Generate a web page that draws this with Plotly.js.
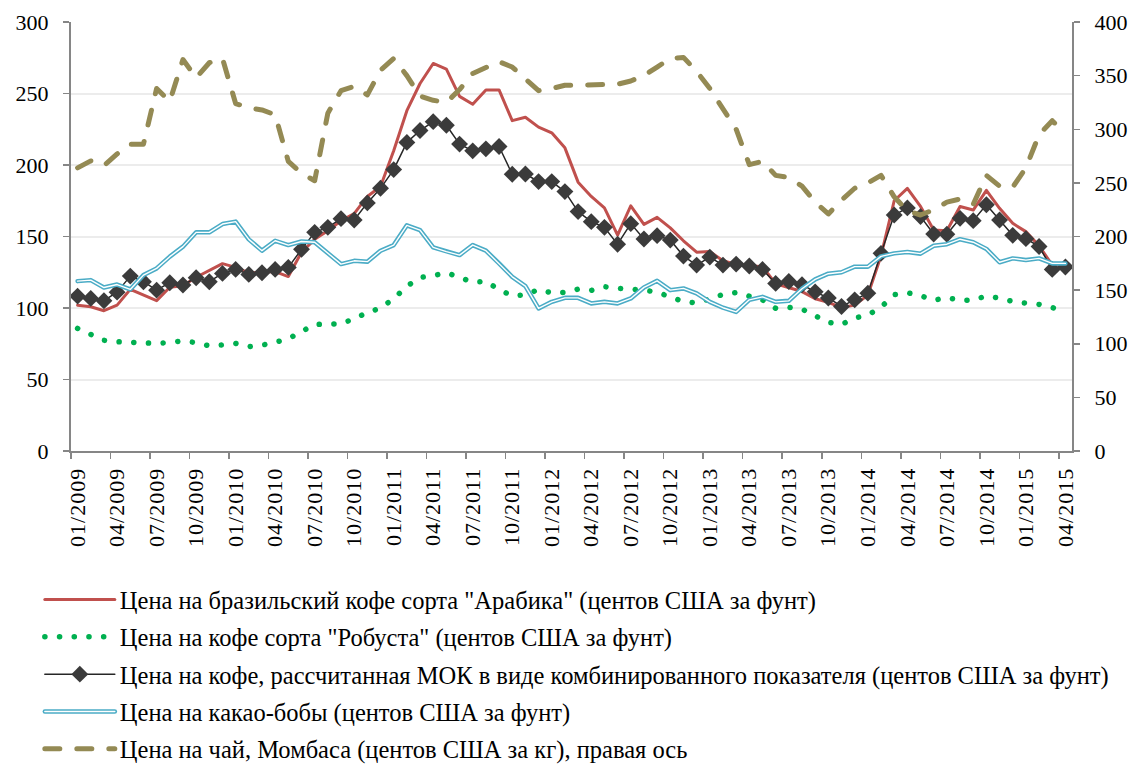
<!DOCTYPE html>
<html><head><meta charset="utf-8">
<script src="https://cdn.plot.ly/plotly-3.0.1.min.js"></script>
<style>
html,body{margin:0;padding:0;background:#fff;}
#chart{width:1138px;height:764px;}
.scatterlayer path.js-line, .legendlines path.js-line{stroke-linecap:round;stroke-linejoin:round;}
.xtick text{letter-spacing:1px;}
</style>
</head><body><div id="chart"></div>
<script>
const months = ["01/2009","02/2009","03/2009","04/2009","05/2009","06/2009","07/2009","08/2009","09/2009","10/2009","11/2009","12/2009",
"01/2010","02/2010","03/2010","04/2010","05/2010","06/2010","07/2010","08/2010","09/2010","10/2010","11/2010","12/2010",
"01/2011","02/2011","03/2011","04/2011","05/2011","06/2011","07/2011","08/2011","09/2011","10/2011","11/2011","12/2011",
"01/2012","02/2012","03/2012","04/2012","05/2012","06/2012","07/2012","08/2012","09/2012","10/2012","11/2012","12/2012",
"01/2013","02/2013","03/2013","04/2013","05/2013","06/2013","07/2013","08/2013","09/2013","10/2013","11/2013","12/2013",
"01/2014","02/2014","03/2014","04/2014","05/2014","06/2014","07/2014","08/2014","09/2014","10/2014","11/2014","12/2014",
"01/2015","02/2015","03/2015","04/2015"];
const tickLabels = ["01/2009","04/2009","07/2009","10/2009","01/2010","04/2010","07/2010","10/2010","01/2011","04/2011","07/2011","10/2011",
"01/2012","04/2012","07/2012","10/2012","01/2013","04/2013","07/2013","10/2013","01/2014","04/2014","07/2014","10/2014","01/2015","04/2015"];

const arabica = [102.0,100.9,98.1,102.0,113.0,109.1,105.1,114.5,115.5,121.5,
126.0,131.0,128.4,124.5,125.0,125.5,122.0,139.0,148.0,154.0,
161.0,166.0,178.0,185.0,210.0,238.0,257.0,271.0,267.0,248.0,
242.5,252.5,252.5,231.0,233.4,226.5,222.5,212.0,188.0,178.0,
170.0,151.0,171.5,158.5,163.4,156.0,147.0,139.0,139.5,133.0,
130.5,129.8,128.9,117.0,114.5,111.5,106.5,104.0,100.3,102.0,
109.0,136.5,175.0,183.7,171.0,154.5,154.0,171.0,168.5,182.3,
169.7,159.2,153.4,143.5,130.0,130.0];
const robusta = [85.7,81.2,77.4,76.4,76.0,75.4,75.2,76.0,77.0,75.8,
73.5,74.2,75.2,73.0,74.0,76.0,78.5,83.5,88.5,88.8,
89.0,92.5,96.8,100.0,106.5,115.2,121.3,122.6,124.7,121.5,
118.0,118.6,112.9,108.5,109.2,112.9,110.6,110.9,113.2,112.3,
114.9,113.8,113.4,112.5,111.0,108.2,104.5,103.5,106.0,109.5,
110.8,108.1,105.7,99.8,100.4,99.2,94.3,90.0,88.5,93.0,
95.1,100.5,109.3,110.7,108.6,105.4,107.3,105.3,105.5,108.5,
106.8,104.6,103.4,102.5,100.3,97.5];
const mok = [108.3,106.7,105.1,111.1,122.3,118.4,112.5,117.7,116.1,121.2,
118.4,124.2,127.0,123.5,124.7,127.0,128.4,141.0,152.9,156.4,
162.5,161.5,173.5,183.7,196.8,215.8,224.1,230.3,227.8,214.6,
209.9,211.3,212.9,193.5,193.7,188.4,188.4,181.4,167.4,160.4,
156.4,144.6,159.0,148.3,150.6,147.5,136.3,130.0,135.6,130.0,
130.7,129.4,127.0,117.2,118.5,116.3,111.3,107.0,101.1,105.7,
110.4,138.2,165.0,170.0,163.9,151.8,151.6,162.7,161.1,172.2,
161.5,150.8,148.5,143.0,127.0,128.7];
const cocoa = [118.8,119.5,114.3,116.4,113.0,123.0,127.7,135.9,142.9,152.9,
152.9,158.7,160.4,148.0,140.1,147.0,144.0,146.5,146.0,138.5,
130.7,133.0,132.4,140.0,144.0,157.8,154.5,142.4,139.4,137.0,
144.0,140.1,131.2,121.8,115.3,99.7,104.3,107.1,107.1,103.2,
104.3,103.2,106.7,114.4,119.0,112.5,113.7,110.2,104.3,100.2,
97.3,105.7,107.8,104.3,105.0,113.5,120.0,124.0,125.0,128.9,
128.9,136.1,138.2,139.2,138.0,143.5,144.6,148.1,146.0,141.3,
132.0,134.7,133.5,134.7,131.2,131.2];
const tea = [264,270.5,266,277,286,286,338,326,365,348,
362,366,324,320,318,313.5,270,259,252,315,
336,340,332,355,366,350,331,327,325,337,
352,358,363,358,347,336,338,341,341,341,
341,342,345,350,358,366,367,354,338,320,
300,267,270,257,255,247,232,221,234,245,
250,257,237,224,220,225,232,235,230,257,
247,246,264,295,308,296];

const names = [
 'Цена на бразильский кофе сорта "Арабика" (центов США за фунт)',
 'Цена на кофе сорта "Робуста" (центов США за фунт)',
 'Цена на кофе, рассчитанная МОК в виде комбинированного показателя (центов США за фунт)',
 'Цена на какао-бобы (центов США за фунт)',
 'Цена на чай, Момбаса (центов США за кг), правая ось'
];

const x = months.map((m, i) => i);
const tickvals = tickLabels.map(t => months.indexOf(t));

const traces = [
 {x, y: arabica, name: names[0], type:'scatter', mode:'lines', legendgroup:'a',
  line:{color:'#c0504d', width:3}},
 {x, y: robusta, name: names[1], type:'scatter', mode:'lines', legendgroup:'b',
  line:{color:'#00b050', width:5.5, dash:'0.1px,14.6px'}},
 {x, y: mok, name: names[2], type:'scatter', mode:'lines+markers', legendgroup:'c',
  line:{color:'#262626', width:1.5}, marker:{symbol:'diamond', size:13, color:'#3b3b3b'}},
 {x, y: cocoa, name: names[3], type:'scatter', mode:'lines', legendgroup:'d',
  line:{color:'#4bacc6', width:4.5}},
 {x, y: cocoa, name: names[3], type:'scatter', mode:'lines', legendgroup:'d', showlegend:false, hoverinfo:'skip',
  line:{color:'#ffffff', width:1.4}},
 {x, y: tea, name: names[4], type:'scatter', mode:'lines', legendgroup:'e', yaxis:'y2',
  line:{color:'#948a54', width:5, dash:'15px,17px'}}
];

const axisColor = '#868686';
const serif = 'Liberation Serif, Times New Roman, serif';
const tickFont = {family:serif, size:22, color:'#000'};

const layout = {
 width:1138, height:764,
 margin:{l:71, r:66, t:22, b:313, pad:0, autoexpand:false},
 paper_bgcolor:'#fff', plot_bgcolor:'#fff',
 showlegend:true,
 xaxis:{range:[-0.5,75.5], tickmode:'array', tickvals, ticktext:tickLabels, tickangle:-90,
  ticks:'', showgrid:false, zeroline:false, showline:true, linecolor:axisColor, linewidth:2,
  tickfont:{family:serif, size:22, color:'#000'},
  ticklabelstandoff:6, automargin:false,
  minor:{tick0:-0.5, dtick:3, ticks:'outside', ticklen:6, tickwidth:1.5, tickcolor:axisColor, showgrid:false}},
 yaxis:{range:[0,300], dtick:50, tick0:0, showline:true, linecolor:axisColor, linewidth:2,
  ticks:'outside', ticklen:6, tickwidth:1.5, tickcolor:axisColor, showgrid:true, gridcolor:'#ececec', gridwidth:2,
  zeroline:false, tickfont:tickFont, ticklabelstandoff:10, automargin:false},
 yaxis2:{range:[0,400], dtick:50, tick0:0, overlaying:'y', side:'right', showline:true, linecolor:axisColor, linewidth:2,
  ticks:'outside', ticklen:6, tickwidth:1.5, tickcolor:axisColor, showgrid:false, zeroline:false,
  tickfont:tickFont, ticklabelstandoff:10, automargin:false},
 legend:{xref:'container', yref:'container', x:0.035, y:1-577/764, xanchor:'left', yanchor:'top',
  orientation:'v', font:{family:serif, size:24.5, color:'#000'},
  itemwidth:70, tracegroupgap:2.5, bgcolor:'rgba(0,0,0,0)', itemclick:false, itemdoubleclick:false}
};

Plotly.newPlot('chart', traces, layout, {staticPlot:true, displayModeBar:false}).then(gd => {
  // double-line legend sample for the cocoa series (matches the plotted double line)
  const items = gd.querySelectorAll('.legend .traces');
  items.forEach(item => {
    const txt = item.querySelector('.legendtext');
    if (txt && txt.textContent === names[3]) {
      const p = item.querySelector('.legendlines path');
      if (p) {
        const c = p.cloneNode(true);
        c.style.stroke = '#ffffff';
        c.style.strokeWidth = '1.4px';
        p.parentNode.appendChild(c);
      }
    }
  });
});
</script>
</body></html>
